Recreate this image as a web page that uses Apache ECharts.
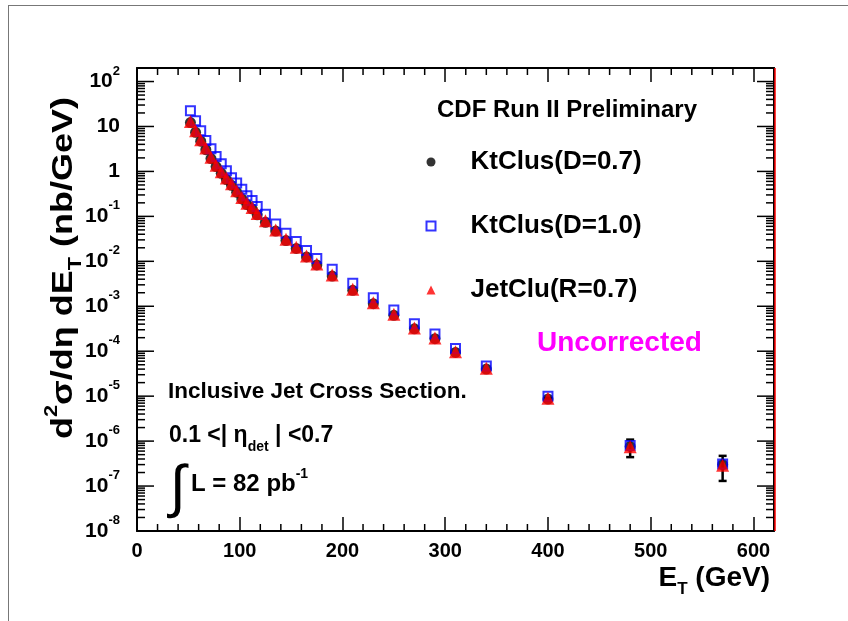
<!DOCTYPE html>
<html><head><meta charset="utf-8">
<script src="https://cdn.jsdelivr.net/npm/echarts@6/dist/echarts.min.js"></script>
<style>html,body{margin:0;padding:0;background:#fff}#c{width:848px;height:621px}</style>
</head><body><div id="c"></div>
<script>
// ---- data ----
const ET = [52,57,62,67,72,77,82,87,92,97,102,107,112,117,125,135,145,155,165,175,190,210,230,250,270,290,310,340,400,480,570];
const ktclus07 = [12.2,7.4,4.7,3.05,1.93,1.28,0.91,0.66,0.49,0.345,0.244,0.183,0.147,0.108,0.074,0.047,0.029,0.0194,0.0125,0.0083,0.0047,0.00226,0.00114,0.00063,3.15e-4,1.9e-4,9.4e-5,4.0e-5,8.6e-6,7.6e-7,3.0e-7];
const ktclus07Err = [0,0,0,0,0,0,0,0,0,0,0,0,0,0,0,0,0,0,0,0,0,0,0,0,0,0,0,0,5e-7,3.2e-7,1.7e-7];
const ktclus10 = [22.4,13.4,8.0,4.87,3.18,2.15,1.48,1.03,0.72,0.55,0.40,0.286,0.225,0.165,0.112,0.068,0.042,0.0275,0.0175,0.0115,0.0067,0.00325,0.00155,0.00083,4.1e-4,2.4e-4,1.15e-4,4.7e-5,1.0e-5,8.0e-7,3.1e-7];
const jetclu07 = [12.9,8.0,5.06,3.3,2.08,1.38,0.98,0.71,0.53,0.37,0.262,0.197,0.158,0.116,0.080,0.050,0.031,0.0206,0.0132,0.00875,0.00498,0.00239,0.00120,0.000663,3.29e-4,1.97e-4,9.75e-5,4.16e-5,8.93e-6,7.46e-7,2.92e-7];
const seriesNames = ['KtClus(D=0.7)','KtClus(D=1.0)','JetClu(R=0.7)'];
const xTickLabels = [0,100,200,300,400,500,600];
const xMinorStep = 20;
const yTickExponents = [-8,-7,-6,-5,-4,-3,-2,-1,0,1,2];
const X_MIN = 0, X_MAX = 620, Y_MIN = 1e-8, Y_MAX = 200;

const FONT = '"Liberation Sans", Arial, Helvetica, sans-serif';

function pts(vals){ return ET.map((e,i)=>[e, vals[i]]); }
const errData = [];
ET.forEach((e,i)=>{ if (ktclus07Err[i] > 0) errData.push([e, ktclus07[i]-ktclus07Err[i], ktclus07[i]+ktclus07Err[i]]); });

// tick positions (axis decoration)
const yMajor = yTickExponents.map(k=>[1, Math.pow(10,k)]);
const yMinor = [];
yTickExponents.forEach(k=>{ for (let m=2;m<=9;m++){ const v=m*Math.pow(10,k); if (v<Y_MAX) yMinor.push([1, v]); } });
const xMinor = [];
for (let v = X_MIN + xMinorStep; v < X_MAX; v += xMinorStep) { if (xTickLabels.indexOf(v) < 0) xMinor.push([v, 1]); }

const chart = echarts.init(document.getElementById('c'), null, {renderer:'canvas'});

const supRich = {
  b:{fontSize:21,fontWeight:'bold',fontFamily:FONT,color:'#000',lineHeight:34},
  s:{fontSize:13,fontWeight:'bold',fontFamily:FONT,color:'#000',lineHeight:14,verticalAlign:'top'}
};

function yTickRender(len){
  return function(params, api){
    const cs = params.coordSys; const y = api.coord([X_MIN, api.value(1)])[1];
    return {type:'group', children:[
      {type:'line', shape:{x1:cs.x, y1:y, x2:cs.x+len, y2:y}, style:{stroke:'#000',lineWidth:1.5}},
      {type:'line', shape:{x1:cs.x+cs.width, y1:y, x2:cs.x+cs.width-len, y2:y}, style:{stroke:'#000',lineWidth:1.5}}
    ]};
  };
}

const option = {
  animation:false,
  backgroundColor:'#fff',
  grid:{left:137,right:74,top:68,bottom:90,containLabel:false,outerBoundsMode:'none'},
  legend:{
    orient:'vertical', left:425.5, top:149, padding:0, itemWidth:9, itemHeight:9, itemGap:38,
    selectedMode:false, data:seriesNames,
    textStyle:{fontSize:26,fontWeight:'bold',fontFamily:FONT,color:'#000',padding:[0,0,0,30]}
  },
  xAxis:[{
    type:'value', position:'bottom', min:X_MIN, max:X_MAX, interval:100,
    axisLine:{show:true,onZero:false,lineStyle:{color:'#000',width:2}},
    axisTick:{show:true,inside:true,length:14,lineStyle:{color:'#000',width:1.5}},
    axisLabel:{margin:10,fontSize:20,fontWeight:'bold',fontFamily:FONT,color:'#000',
      formatter:v=> xTickLabels.indexOf(v)>=0 ? String(v) : ''},
    splitLine:{show:false}
  },{
    type:'value', position:'top', min:X_MIN, max:X_MAX, interval:100,
    axisLine:{show:true,onZero:false,lineStyle:{color:'#000',width:2}},
    axisTick:{show:true,inside:true,length:14,lineStyle:{color:'#000',width:1.5}},
    axisLabel:{show:false}, splitLine:{show:false}
  }],
  yAxis:[{
    type:'log', logBase:10, position:'left', min:Y_MIN, max:Y_MAX, interval:1,
    axisLine:{show:true,onZero:false,lineStyle:{color:'#000',width:2}},
    axisTick:{show:false},
    axisLabel:{margin:17,align:'right',rich:supRich,
      formatter:function(v){
        const l = Math.log10(v), e = Math.round(l);
        if (Math.abs(l-e) > 1e-6 || yTickExponents.indexOf(e) < 0) return '';
        if (e===0) return '{b|1}';
        if (e===1) return '{b|10}';
        return '{b|10}{s|' + e + '}';
      }},
    splitLine:{show:false}
  },{
    type:'log', logBase:10, position:'right', min:Y_MIN, max:Y_MAX, interval:1,
    axisLine:{show:true,onZero:false,lineStyle:{color:'#000',width:2}},
    axisTick:{show:false},
    axisLabel:{show:false}, splitLine:{show:false}
  }],
  series:[
    {type:'custom', name:'yMajorTicks', silent:true, clip:false, z:5, data:yMajor, renderItem:yTickRender(17)},
    {type:'custom', name:'yMinorTicks', silent:true, clip:false, z:5, data:yMinor, renderItem:yTickRender(8)},
    {type:'custom', name:'xMinorTicks', silent:true, clip:false, z:5, data:xMinor,
      renderItem:function(params, api){
        const cs = params.coordSys; const x = api.coord([api.value(0), Y_MIN])[0];
        return {type:'group', children:[
          {type:'line', shape:{x1:x, y1:cs.y+cs.height, x2:x, y2:cs.y+cs.height-7}, style:{stroke:'#000',lineWidth:1.5}},
          {type:'line', shape:{x1:x, y1:cs.y, x2:x, y2:cs.y+7}, style:{stroke:'#000',lineWidth:1.5}}
        ]};
      }},
    {type:'custom', name:'errors', silent:true, clip:false, z:1, data:errData,
      renderItem:function(params, api){
        const p1 = api.coord([api.value(0), api.value(1)]);
        const p2 = api.coord([api.value(0), api.value(2)]);
        const w = 4;
        return {type:'group', children:[
          {type:'line', shape:{x1:p1[0],y1:p1[1],x2:p2[0],y2:p2[1]}, style:{stroke:'#000',lineWidth:2.5}},
          {type:'line', shape:{x1:p1[0]-w,y1:p1[1],x2:p1[0]+w,y2:p1[1]}, style:{stroke:'#000',lineWidth:2.5}},
          {type:'line', shape:{x1:p2[0]-w,y1:p2[1],x2:p2[0]+w,y2:p2[1]}, style:{stroke:'#000',lineWidth:2.5}}
        ]};
      }},
    {type:'scatter', name:seriesNames[0], data:pts(ktclus07), symbol:'circle', symbolSize:11, z:2,
      itemStyle:{color:'#000'}},
    {type:'scatter', name:seriesNames[1], data:pts(ktclus10), symbol:'rect', symbolSize:9, z:3,
      itemStyle:{color:'rgba(255,255,255,0)', borderColor:'#0000ff', borderWidth:2}},
    {type:'scatter', name:seriesNames[2], data:pts(jetclu07), symbol:'triangle', symbolSize:13, z:4,
      itemStyle:{color:'#ff0000'}}
  ],
  graphic:[
    {type:'line', shape:{x1:8,y1:5.5,x2:848,y2:5.5}, style:{stroke:'#777',lineWidth:1}, silent:true},
    {type:'line', shape:{x1:8.5,y1:5,x2:8.5,y2:621}, style:{stroke:'#777',lineWidth:1}, silent:true},
    {type:'line', shape:{x1:775,y1:68,x2:775,y2:531}, style:{stroke:'#ff0000',lineWidth:1.5}, silent:true, z:10},
    {type:'text', x:437, y:110, silent:true, style:{text:'CDF Run II Preliminary', fontSize:24, fontWeight:'bold', fontFamily:FONT, fill:'#000', textAlign:'left', textVerticalAlign:'middle'}},
    {type:'text', x:537, y:343, silent:true, style:{text:'Uncorrected', fontSize:28, fontWeight:'bold', fontFamily:FONT, fill:'#ff00ff', textAlign:'left', textVerticalAlign:'middle'}},
    {type:'text', x:168, y:392, silent:true, style:{text:'Inclusive Jet Cross Section.', fontSize:22.5, fontWeight:'bold', fontFamily:FONT, fill:'#000', textAlign:'left', textVerticalAlign:'middle'}},
    {type:'text', x:169, y:436, silent:true, style:{text:'{a|0.1 <| η}{sub|det}{a| | <0.7}', textAlign:'left', textVerticalAlign:'middle',
      rich:{a:{fontSize:23,fontWeight:'bold',fontFamily:FONT,fill:'#000',lineHeight:36},
            sub:{fontSize:14,fontWeight:'bold',fontFamily:FONT,fill:'#000',lineHeight:16,verticalAlign:'bottom'}}}},
    {type:'text', x:170, y:490, silent:true, style:{text:'∫', fontSize:58, fontFamily:FONT, fill:'#000', textAlign:'left', textVerticalAlign:'middle'}},
    {type:'text', x:191, y:484, silent:true, style:{text:'{a|L = 82 pb}{sup|-1}', textAlign:'left', textVerticalAlign:'middle',
      rich:{a:{fontSize:24,fontWeight:'bold',fontFamily:FONT,fill:'#000',lineHeight:34},
            sup:{fontSize:14,fontWeight:'bold',fontFamily:FONT,fill:'#000',lineHeight:16,verticalAlign:'top'}}}},
    {type:'text', x:770, y:578, silent:true, style:{text:'{a|E}{sub|T}{a| (GeV)}', textAlign:'right', textVerticalAlign:'middle',
      rich:{a:{fontSize:28,fontWeight:'bold',fontFamily:FONT,fill:'#000',lineHeight:40},
            sub:{fontSize:17,fontWeight:'bold',fontFamily:FONT,fill:'#000',lineHeight:20,verticalAlign:'bottom'}}}},
    {type:'text', x:64, y:268, rotation:Math.PI/2, scaleX:1.2, scaleY:1, silent:true, style:{text:'{a|d}{sup|2}{a|σ/dη dE}{sub|T}{a| (nb/GeV)}', textAlign:'center', textVerticalAlign:'middle',
      rich:{a:{fontSize:30,fontWeight:'bold',fontFamily:FONT,fill:'#000',lineHeight:42},
            sup:{fontSize:18,fontWeight:'bold',fontFamily:FONT,fill:'#000',lineHeight:20,verticalAlign:'top'},
            sub:{fontSize:18,fontWeight:'bold',fontFamily:FONT,fill:'#000',lineHeight:20,verticalAlign:'bottom'}}}}
  ]
};
chart.setOption(option);
</script>
</body></html>
